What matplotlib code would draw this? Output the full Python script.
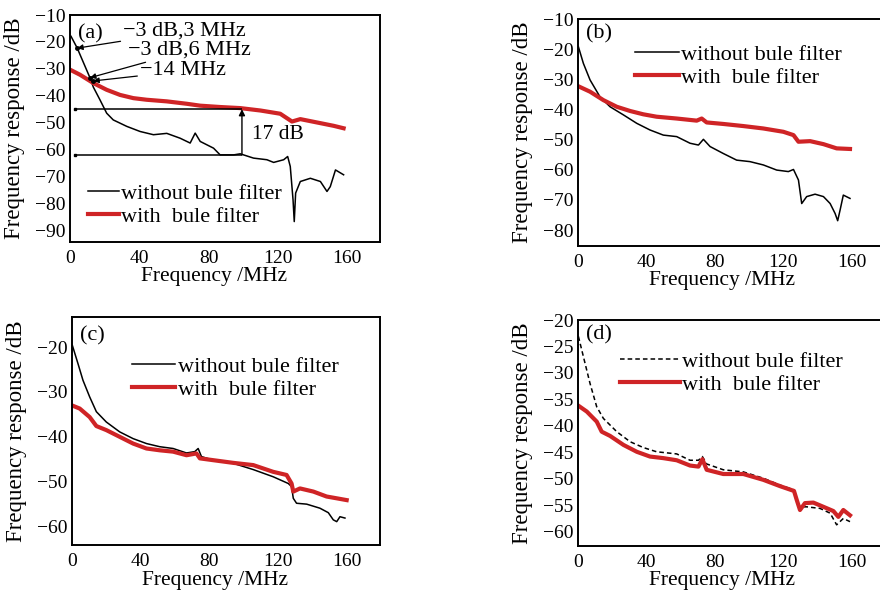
import matplotlib.pyplot as plt

plt.rcParams['font.family'] = ['Liberation Serif', 'DejaVu Serif']
plt.rcParams['axes.linewidth'] = 1.4

RED = '#cf2426'

# panel (a)
fa_black = [0.6, 4.2, 11.6, 13.5, 17.3, 21.2, 25, 32.8, 40.5, 48.2, 55.9, 63.6, 69.4, 72.3, 75.2,
            82.9, 86.7, 94.5, 98.3, 106, 113.7, 117.6, 123.4, 125.7, 127.2, 128.8, 129.5, 130.3,
            133, 138.8, 144.6, 148.4, 150.3, 153.3, 158]
ra_black = [-17.9, -22.3, -33.4, -36.8, -41.5, -46.5, -49, -51.4, -53.3, -54.5, -54, -55.8, -57.6,
            -53.9, -57, -59.5, -62, -62, -61.6, -63.2, -63.8, -64.8, -63.8, -62.6, -66.3, -78.7,
            -86.8, -76.2, -71.9, -70.7, -71.9, -75.6, -73.8, -67.6, -69.4]
fa_red = [0, 5.8, 13.5, 21.2, 28.9, 36.6, 44.3, 55.9, 67.5, 75.2, 86.7, 98.3, 110, 121.4, 128.2,
          133, 144.6, 152.3, 158]
ra_red = [-30.3, -32.2, -35.3, -37.8, -39.7, -40.9, -41.5, -42.1, -43, -43.7, -44.2, -44.6, -45.5,
          -46.7, -49.6, -48.7, -50.2, -51.2, -52.1]

# panel (b)
fb_black = [0.4, 3.3, 7.2, 13, 18.9, 26.7, 34.5, 42.2, 50, 57.8, 65.6, 70.5, 73.4, 77.3, 85, 92.8,
            100.6, 108.4, 116.2, 123, 126, 128.9, 130.8, 133.7, 138.6, 143.5, 147.4, 150.3, 151.8,
            153.2, 155.1, 159]
rb_black = [-19.2, -24.7, -30.2, -35.8, -39.1, -41.8, -44.6, -46.8, -48.5, -49, -51.2, -51.8, -49.9,
            -52.3, -54.6, -56.8, -57.3, -58.4, -60.1, -60.6, -59.9, -63.4, -71.2, -68.9, -68.1,
            -68.9, -71.2, -74.5, -76.9, -73.4, -68.4, -69.5]
fb_red = [0, 7.2, 15, 22.8, 30.6, 38.3, 46.1, 57.8, 69.5, 72.4, 75.3, 85, 96.7, 108.4, 120.1, 126,
          128.9, 135.7, 143.5, 151.2, 159]
rb_red = [-32.2, -34.1, -36.9, -39.1, -40.5, -41.6, -42.4, -43, -43.7, -43, -44.3, -44.8, -45.5,
          -46.3, -47.4, -48.5, -50.7, -50.5, -51.5, -52.9, -53.1]

# panel (c)
fc_black = [0.2, 3.5, 6.4, 10.3, 14.2, 20, 27.8, 35.6, 43.4, 51.1, 58.9, 66.7, 71.5, 73.5, 75.4,
            82.2, 93.9, 105.6, 117.2, 126, 127.9, 128.9, 130.8, 136.7, 144.4, 149.3, 152.2, 154.2,
            156.1, 159]
rc_black = [-19.6, -23.7, -27.4, -31.1, -34.4, -36.7, -38.9, -40.4, -41.5, -42.2, -42.6, -43.6,
            -43.3, -42.6, -44.4, -45.2, -45.9, -47.3, -48.9, -50.4, -51.1, -53.7, -54.8, -55,
            -55.9, -56.9, -58.5, -58.9, -57.8, -58.1]
fc_red = [0, 4.5, 10.3, 14.2, 20, 27.8, 35.6, 43.4, 51.1, 58.9, 66.7, 72.5, 74.5, 82.2, 93.9, 105.6,
          117.2, 125, 127.9, 128.9, 132.8, 140.6, 148.3, 154.2, 160]
rc_red = [-33, -33.7, -35.6, -37.6, -38.5, -40, -41.5, -42.6, -43, -43.3, -44.1, -43.7, -44.8, -45.2,
          -45.8, -46.3, -47.8, -48.5, -50.4, -52.2, -51.5, -52.2, -53.3, -53.7, -54.1]

# panel (d)
fd_black = [0.4, 3.3, 7.2, 11.1, 15, 22.8, 30.6, 38.3, 46.1, 57.8, 65.6, 70.5, 72.8, 75.3, 85, 96.7,
            108.4, 118.2, 126.3, 127.9, 129.8, 133.7, 141.5, 147.4, 151.2, 155.1, 159]
rd_black = [-23.1, -26.9, -32, -36.4, -38.6, -41.1, -43, -44.1, -44.9, -45.3, -46.5, -46.5, -45.8,
            -47.2, -48.3, -48.7, -49.9, -51.2, -52.1, -54.6, -55.3, -55.3, -55.6, -56.5, -58.7,
            -57.5, -58.1]
fd_red = [0, 5.3, 11.1, 14, 18.9, 26.7, 34.5, 42.2, 50, 57.8, 65.6, 70.5, 72.8, 75.3, 85, 96.7, 108.4,
          118.2, 126.3, 127.9, 129.8, 132.7, 137.6, 143.5, 149.3, 152.2, 155.1, 159]
rd_red = [-36.1, -37.3, -39.2, -41.1, -41.9, -43.6, -44.9, -45.8, -46.1, -46.5, -47.5, -47.7, -46.3,
          -48.3, -49.1, -49.1, -50.2, -51.4, -52.3, -54, -55.9, -54.6, -54.5, -55.3, -56.1, -57.2,
          -55.9, -56.9]

xticks = [0, 40, 80, 120, 160]
labels = ['without bule filter', 'with  bule filter']

fig = plt.figure(figsize=(8.8, 5.9), dpi=100)

# right-hand panels run past the figure edge, like the cropped original
panels = [
    # tag, rect, xmax, ylim, yticks, black, red, black style, legend pos, handlelength, tag y
    ('(a)', [0.0795, 0.5898, 0.3523, 0.3847], 179, (-94.4, -10), range(-90, -9, 10),
     (fa_black, ra_black), (fa_red, ra_red), '-', (0.058, 0.26), 1.4, 0.915),
    ('(b)', [0.6565, 0.583, 0.36, 0.3847], 185, (-85.3, -10), range(-80, -9, 10),
     (fb_black, rb_black), (fb_red, rb_red), '-', (0.18, 0.888), 2.0, 0.935),
    ('(c)', [0.0818, 0.0763, 0.35, 0.3864], 179.4, (-64.1, -13.3), range(-60, -19, 10),
     (fc_black, rc_black), (fc_red, rc_red), '-', (0.195, 0.827), 1.95, 0.918),
    ('(d)', [0.6565, 0.0746, 0.36, 0.383], 185, (-62.7, -20), range(-60, -19, 5),
     (fd_black, rd_black), (fd_red, rd_red), (0, (3, 2)), (0.133, 0.862), 2.7, 0.935),
]

axes = []
for tag, rect, xmax, ylim, yt, blk, red, bls, lpos, hl, tag_y in panels:
    ax = fig.add_axes(rect)
    ax.plot(blk[0], blk[1], color='black', lw=1.1, ls=bls, label=labels[0])
    ax.plot(red[0], red[1], color=RED, lw=3.0, label=labels[1])
    ax.set_xlim(0, xmax)
    ax.set_ylim(*ylim)
    ax.set_xticks(xticks)
    ax.set_yticks(list(yt))
    ax.tick_params(length=0, labelsize=14, pad=3)
    ax.tick_params(axis='x', pad=6)
    ax.set_xlabel('Frequency /MHz', fontsize=15.5)
    ax.set_ylabel('Frequency response /dB', fontsize=16.5, labelpad=7)
    xlab = 0.465 * 0.3523 / rect[2] if rect[2] > 0.355 else 0.465
    ax.xaxis.set_label_coords(xlab, -0.112)
    ax.text(0.026, tag_y, tag, transform=ax.transAxes, fontsize=16, ha='left', va='center')
    ax.legend(loc='upper left', bbox_to_anchor=lpos, frameon=False, borderpad=0,
              handlelength=hl, handletextpad=0.1, labelspacing=0.12, fontsize=16,
              borderaxespad=0)
    axes.append(ax)

# annotations on panel (a)
ax = axes[0]
marks_x = [4.2, 11.6, 13.5]
marks_y = [-22.3, -33.3, -34.5]
notes = ['\u22123 dB,3 MHz', '\u22123 dB,6 MHz', '\u221214 MHz']
note_pos = [(30.8, -16.0), (33.7, -23.0), (40.5, -30.8)]
for mx, my, t, (tx, ty) in zip(marks_x, marks_y, notes, note_pos):
    ax.annotate(t, xy=(mx, my), xytext=(tx, ty), fontsize=16, ha='left', va='center',
                arrowprops=dict(arrowstyle='-|>', color='black', lw=0.9,
                                shrinkA=0, shrinkB=0, mutation_scale=8))
ax.plot(marks_x, marks_y, 'o', color='black', ms=2.5)

gap_x = 99.3
gap_top, gap_bot = -45, -62
ax.hlines([gap_top, gap_bot], 3, gap_x, color='black', lw=1.1)
ax.plot([3, 3], [gap_top, gap_bot], 's', color='black', ms=2)
ax.annotate('', xy=(gap_x, gap_top), xytext=(gap_x, gap_bot),
            arrowprops=dict(arrowstyle='-|>', color='black', lw=1.0,
                            shrinkA=0, shrinkB=0, mutation_scale=9))
ax.text(105, -54.6, '17 dB', fontsize=15.5, ha='left', va='center')

fig.savefig('out.png', dpi=100)
